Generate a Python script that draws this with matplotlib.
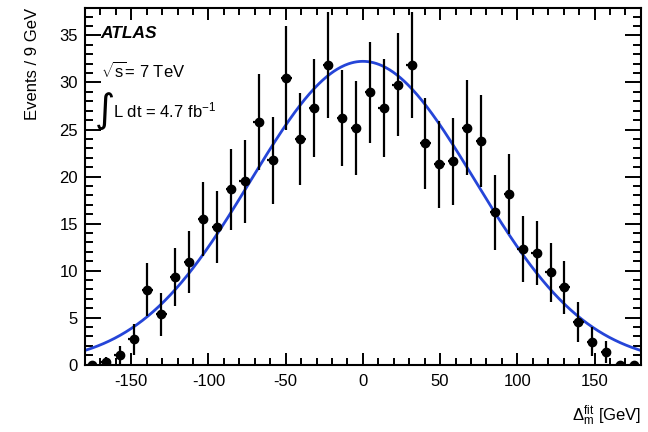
import numpy as np
import matplotlib
matplotlib.use("Agg")
import matplotlib.pyplot as plt
from matplotlib.ticker import MultipleLocator

# -----------------------------
# Data
# -----------------------------
bin_width = 9.0
bin_centers = np.arange(-175.5, 180.0, bin_width)
events = [
    0.0, 0.30, 0.98, 2.71, 7.98, 5.33, 9.32, 10.91, 15.52, 14.65,
    18.65, 19.51, 25.78, 21.71, 30.52, 23.97, 27.26, 31.87, 26.24, 25.14,
    28.96, 27.30, 29.78, 31.90, 23.55, 21.32, 21.60, 25.20, 23.80, 16.19,
    18.10, 12.29, 11.87, 9.83, 8.20, 4.54, 2.42, 1.36, 0.0, 0.0,
]

# Gaussian fit parameters
fit_norm = 32.25
fit_mean = 0.0
fit_sigma = 72.7

plt.rcParams["font.family"] = ["Liberation Sans", "DejaVu Sans"]
plt.rcParams["axes.unicode_minus"] = False
plt.rcParams["mathtext.fontset"] = "custom"
plt.rcParams["mathtext.rm"] = "Liberation Sans"
plt.rcParams["mathtext.it"] = "Liberation Sans:italic"
plt.rcParams["mathtext.bf"] = "Liberation Sans:bold"

fig = plt.figure(figsize=(6.48, 4.32), dpi=100)
ax = fig.add_axes([0.131, 0.156, 0.858, 0.825])

xs = np.linspace(-180, 180, 600)
fit_curve = fit_norm * np.exp(-0.5 * ((xs - fit_mean) / fit_sigma) ** 2)
ax.plot(xs, fit_curve, color="#2545d8", lw=2.0, zorder=2)

y = np.array(events)
yerr = np.sqrt(y)
ax.errorbar(bin_centers, y, yerr=yerr, xerr=3.4, fmt="o", color="black",
            ms=6, elinewidth=1.6, capsize=0, zorder=3)

ax.set_xlim(-180, 180)
ax.set_ylim(0, 37.9)

ax.xaxis.set_major_locator(MultipleLocator(50))
ax.xaxis.set_minor_locator(MultipleLocator(10))
ax.yaxis.set_major_locator(MultipleLocator(5))
ax.yaxis.set_minor_locator(MultipleLocator(1))

ax.tick_params(axis="both", which="both", direction="in", top=True, right=True,
               width=1.4, labelsize=12)
ax.tick_params(axis="x", which="major", length=8.6, pad=7)
ax.tick_params(axis="x", which="minor", length=4.7)
ax.tick_params(axis="y", which="major", length=11.5, pad=5)
ax.tick_params(axis="y", which="minor", length=5.8)
for sp in ax.spines.values():
    sp.set_linewidth(1.5)

ax.set_ylabel("Events / 9 GeV", loc="top", fontsize=12, labelpad=14)
ax.set_xlabel(r"$\Delta_{\mathrm{m}}^{\mathrm{fit}}$ [GeV]", loc="right",
              fontsize=12, labelpad=10)

# Labels
ax.text(0.027, 0.93, "ATLAS", transform=ax.transAxes, fontsize=12.5,
        fontweight="bold", fontstyle="italic", va="center", ha="left")
ax.text(0.029, 0.825, r"$\sqrt{\mathrm{s}}$= 7 TeV", transform=ax.transAxes,
        fontsize=12, va="center", ha="left")
ax.text(0.018, 0.712, "\u222b", transform=ax.transAxes, fontsize=28,
        family="DejaVu Sans", va="center", ha="left")
ax.text(0.05, 0.712, r"L dt = 4.7 fb$^{\mathrm{-1}}$", transform=ax.transAxes,
        fontsize=12, va="center", ha="left")

fig.savefig("out.png", dpi=100)
